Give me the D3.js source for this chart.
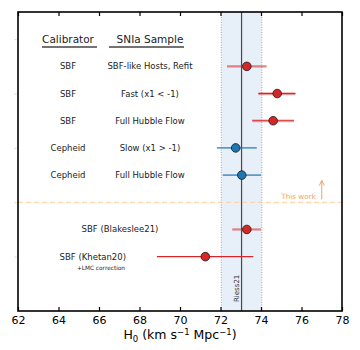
<!DOCTYPE html>
<html>
<head>
<meta charset="utf-8">
<script src="https://cdn.jsdelivr.net/npm/d3@7"></script>
<style>
  body { margin: 0; background: #fff; }
  svg { font-family: "DejaVu Sans", sans-serif; }
</style>
</head>
<body>
<script>
// data
var calibrators = ["SBF", "SBF", "SBF", "Cepheid", "Cepheid"];
var samples = ["SBF-like Hosts, Refit", "Fast (x1 < -1)", "Full Hubble Flow", "Slow (x1 > -1)", "Full Hubble Flow"];
var extraLabels = ["SBF (Blakeslee21)", "SBF (Khetan20)"];
var rowIndex = [1, 2, 3, 4, 5, 7, 8];
var h0 = [73.3, 74.8, 74.6, 72.75, 73.05, 73.3, 71.25];
var errLo = [72.32, 73.87, 73.57, 71.82, 72.11, 72.58, 68.86];
var errHi = [74.28, 75.70, 75.63, 73.79, 74.00, 74.00, 73.62];
var errKind = ["light", "both", "both", "blue", "blue", "light", "dark"];
var riess = 73.04, riessErr = 1.0;
var xTicks = [62, 64, 66, 68, 70, 72, 74, 76, 78];
var yTicks = [0, 2, 4, 6, 8];

var W = 360, H = 350;
var margin = {left: 18, right: 18, top: 12, bottom: 39};

var svg = d3.select("body").append("svg")
    .attr("width", W)
    .attr("height", H);

var x = d3.scaleLinear().domain([62, 78]).range([margin.left, W - margin.right]);
var y = d3.scaleLinear().domain([-1, 10]).range([margin.top, H - margin.bottom]);

var red = "#d62728", blue = "#1f77b4";

//Riess21 band
svg.append("rect")
    .attr("x", x(riess - riessErr))
    .attr("y", y(-1))
    .attr("width", x(riess + riessErr) - x(riess - riessErr))
    .attr("height", y(10) - y(-1))
    .attr("fill", "#e7eff8");
[riess - riessErr, riess + riessErr].forEach(function(v){
    svg.append("line")
        .attr("x1", x(v)).attr("x2", x(v))
        .attr("y1", y(-1)).attr("y2", y(10))
        .attr("stroke", "#a8a8a8")
        .attr("stroke-width", 1)
        .attr("stroke-dasharray", "1,1.5");
});
svg.append("line")
    .attr("x1", x(riess)).attr("x2", x(riess))
    .attr("y1", y(-1)).attr("y2", y(10))
    .attr("stroke", "#4a4a4a")
    .attr("stroke-width", 1.2);
svg.append("text")
    .attr("transform", "translate(" + (x(riess) - 2.5) + "," + 302 + ") rotate(-90)")
    .attr("font-size", 7)
    .attr("fill", "#333")
    .text("Riess21");

//"this work" divider
svg.append("line")
    .attr("x1", x(62)).attr("x2", x(78))
    .attr("y1", y(6)).attr("y2", y(6))
    .attr("stroke", "#ffcb9a")
    .attr("stroke-width", 1.2)
    .attr("stroke-dasharray", "5,3");
svg.append("text")
    .attr("x", x(76.7))
    .attr("y", y(6) - 3)
    .attr("text-anchor", "end")
    .attr("font-size", 7.2)
    .attr("fill", "#f7a25c")
    .text("This work");
svg.append("line")
    .attr("x1", x(77)).attr("x2", x(77))
    .attr("y1", y(6) - 3).attr("y2", y(5.2))
    .attr("stroke", "#f7a25c")
    .attr("stroke-width", 1);
svg.append("path")
    .attr("d", "M" + (x(77) - 2.5) + "," + (y(5.2) + 5) + "L" + x(77) + "," + y(5.2) + "L" + (x(77) + 2.5) + "," + (y(5.2) + 5))
    .attr("fill", "none")
    .attr("stroke", "#f7a25c")
    .attr("stroke-width", 1);

//error bars
var rows = h0.map(function(v, i){
    return {v: v, lo: errLo[i], hi: errHi[i], kind: errKind[i], r: rowIndex[i]};
});
rows.forEach(function(d){
    var g = svg.append("g");
    function bar(color, width, opacity){
        g.append("line")
            .attr("x1", x(d.lo)).attr("x2", x(d.hi))
            .attr("y1", y(d.r)).attr("y2", y(d.r))
            .attr("stroke", color)
            .attr("stroke-width", width)
            .attr("stroke-opacity", opacity);
    }
    if (d.kind == "light"){
        bar(red, 2.2, 0.55);
    } else if (d.kind == "both"){
        bar(red, 3.2, 0.3);
        bar(red, 1.2, 1);
    } else if (d.kind == "blue"){
        bar(blue, 1.8, 0.7);
    } else {
        bar(red, 1.3, 1);
    }
});

//points
svg.selectAll(".pts")
    .data(rows)
    .enter()
    .append("circle")
    .attr("class", "pts")
    .attr("cx", function(d){ return x(d.v); })
    .attr("cy", function(d){ return y(d.r); })
    .attr("r", 4.3)
    .attr("fill", function(d){ return d.kind == "blue" ? blue : red; })
    .attr("stroke", "#1a1a1a")
    .attr("stroke-width", 0.8);

//table labels
var calX = 68, sampX = 150;
svg.append("text").attr("x", calX).attr("y", y(0) + 3.5)
    .attr("text-anchor", "middle").attr("font-size", 10.5).attr("fill", "#222")
    .text("Calibrator");
svg.append("text").attr("x", sampX).attr("y", y(0) + 3.5)
    .attr("text-anchor", "middle").attr("font-size", 10.5).attr("fill", "#222")
    .text("SNIa Sample");
svg.append("line").attr("x1", 42).attr("x2", 97).attr("y1", 47).attr("y2", 47)
    .attr("stroke", "#444").attr("stroke-width", 1.5);
svg.append("line").attr("x1", 109).attr("x2", 184).attr("y1", 47).attr("y2", 47)
    .attr("stroke", "#444").attr("stroke-width", 1.5);

calibrators.forEach(function(c, i){
    svg.append("text").attr("x", calX).attr("y", y(i + 1) + 3)
        .attr("text-anchor", "middle").attr("font-size", 8.5).attr("fill", "#222")
        .text(c);
    svg.append("text").attr("x", sampX).attr("y", y(i + 1) + 3)
        .attr("text-anchor", "middle").attr("font-size", 8.5).attr("fill", "#222")
        .text(samples[i]);
});
svg.append("text").attr("x", 120).attr("y", y(7) + 3)
    .attr("text-anchor", "middle").attr("font-size", 8.5).attr("fill", "#222")
    .text(extraLabels[0]);
svg.append("text").attr("x", 126).attr("y", y(8) + 3)
    .attr("text-anchor", "end").attr("font-size", 8.5).attr("fill", "#222")
    .text(extraLabels[1]);
svg.append("text").attr("x", 125).attr("y", y(8) + 13)
    .attr("text-anchor", "end").attr("font-size", 5.8).attr("fill", "#222")
    .text("+LMC correction");

//axes
var xAxis = svg.append("g")
    .attr("transform", "translate(0," + y(10) + ")")
    .call(d3.axisBottom(x).tickValues(xTicks).tickSize(-4).tickPadding(5).tickFormat(d3.format("d")));
xAxis.select(".domain").remove();
xAxis.selectAll("line").attr("stroke", "#000").attr("stroke-width", 1.2);
xAxis.selectAll("text").attr("font-size", 11).attr("fill", "#000").attr("font-family", "DejaVu Sans");

var topAxis = svg.append("g")
    .attr("transform", "translate(0," + y(-1) + ")")
    .call(d3.axisTop(x).tickValues(xTicks).tickSize(-4).tickFormat(""));
topAxis.select(".domain").remove();
topAxis.selectAll("line").attr("stroke", "#000").attr("stroke-width", 1.2);

var leftAxis = svg.append("g")
    .attr("transform", "translate(" + (x(62) - 1.5) + ",0)")
    .call(d3.axisLeft(y).tickValues(yTicks).tickSize(2).tickFormat(""));
leftAxis.select(".domain").remove();
leftAxis.selectAll("line").attr("stroke", "#ccc").attr("stroke-width", 0.8);

//frame
svg.append("rect")
    .attr("x", x(62)).attr("y", y(-1))
    .attr("width", x(78) - x(62))
    .attr("height", y(10) - y(-1))
    .attr("fill", "none")
    .attr("stroke", "#000")
    .attr("stroke-width", 1.6);

//x axis title
var title = svg.append("text")
    .attr("x", (x(62) + x(78)) / 2)
    .attr("y", 339)
    .attr("text-anchor", "middle")
    .attr("font-size", 12.5)
    .attr("fill", "#000");
title.append("tspan").text("H");
title.append("tspan").attr("font-size", 8.5).attr("dy", 3).text("0");
title.append("tspan").attr("dy", -3).text(" (km s");
title.append("tspan").attr("font-size", 8.5).attr("dy", -4).text("\u22121");
title.append("tspan").attr("dy", 4).text(" Mpc");
title.append("tspan").attr("font-size", 8.5).attr("dy", -4).text("\u22121");
title.append("tspan").attr("dy", 4).text(")");
</script>
</body>
</html>
